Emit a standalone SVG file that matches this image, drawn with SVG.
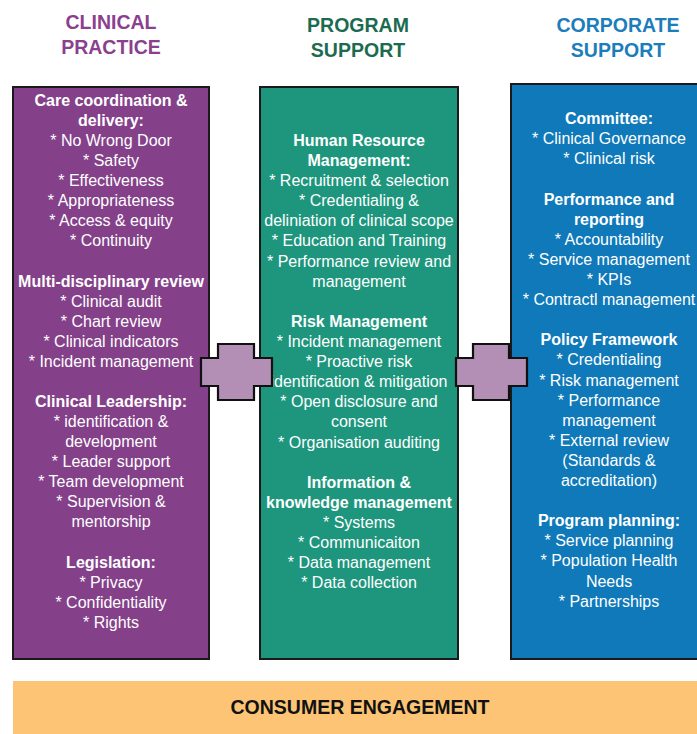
<svg xmlns="http://www.w3.org/2000/svg" width="697" height="734" viewBox="0 0 697 734">
<style>
.t{font-family:"Liberation Sans",Arial,sans-serif;font-size:16px;fill:#ffffff;text-anchor:middle}
.b{font-weight:bold}
.h{font-family:"Liberation Sans",Arial,sans-serif;font-size:19.5px;font-weight:bold;text-anchor:middle}
.box{stroke:#1a1a1a;stroke-width:2}
.cross{fill:#b38fb5;stroke:#111;stroke-width:2.2;stroke-linejoin:miter}
</style>
<rect width="697" height="734" fill="#ffffff"/>
<g id="headers">
<text class="h" x="111" y="29" fill="#8a3f8f">CLINICAL</text>
<text class="h" x="111" y="54" fill="#8a3f8f">PRACTICE</text>
<text class="h" x="358" y="32" fill="#1b6b4f">PROGRAM</text>
<text class="h" x="358" y="57" fill="#1b6b4f">SUPPORT</text>
<text class="h" x="618" y="32" fill="#1b7dba">CORPORATE</text>
<text class="h" x="618" y="57" fill="#1b7dba">SUPPORT</text>
</g>
<g id="clinical">
<rect class="box" x="13" y="87" width="196" height="572" fill="#84418a"/>
<text class="t b" x="111" y="106">Care coordination &amp;</text>
<text class="t b" x="111" y="126">delivery:</text>
<text class="t" x="111" y="146">* No Wrong Door</text>
<text class="t" x="111" y="166">* Safety</text>
<text class="t" x="111" y="186">* Effectiveness</text>
<text class="t" x="111" y="206">* Appropriateness</text>
<text class="t" x="111" y="226">* Access &amp; equity</text>
<text class="t" x="111" y="246">* Continuity</text>
<text class="t b" x="111" y="286.5">Multi-disciplinary review</text>
<text class="t" x="111" y="306.5">* Clinical audit</text>
<text class="t" x="111" y="326.5">* Chart review</text>
<text class="t" x="111" y="346.5">* Clinical indicators</text>
<text class="t" x="111" y="366.5">* Incident management</text>
<text class="t b" x="111" y="407">Clinical Leadership:</text>
<text class="t" x="111" y="427">* identification &amp;</text>
<text class="t" x="111" y="447">development</text>
<text class="t" x="111" y="467">* Leader support</text>
<text class="t" x="111" y="487">* Team development</text>
<text class="t" x="111" y="507">* Supervision &amp;</text>
<text class="t" x="111" y="527">mentorship</text>
<text class="t b" x="111" y="567.5">Legislation:</text>
<text class="t" x="111" y="587.5">* Privacy</text>
<text class="t" x="111" y="607.5">* Confidentiality</text>
<text class="t" x="111" y="627.5">* Rights</text>
</g>
<g id="program">
<rect class="box" x="260" y="87" width="198" height="572" fill="#1d967d"/>
<text class="t b" x="359" y="146">Human Resource</text>
<text class="t b" x="359" y="166">Management:</text>
<text class="t" x="359" y="186">* Recruitment &amp; selection</text>
<text class="t" x="359" y="206">* Credentialing &amp;</text>
<text class="t" x="359" y="226">deliniation of clinical scope</text>
<text class="t" x="359" y="246">* Education and Training</text>
<text class="t" x="359" y="266.5">* Performance review and</text>
<text class="t" x="359" y="286.5">management</text>
<text class="t b" x="359" y="327">Risk Management</text>
<text class="t" x="359" y="347">* Incident management</text>
<text class="t" x="359" y="367">* Proactive risk</text>
<text class="t" x="359" y="387">identification &amp; mitigation</text>
<text class="t" x="359" y="407">* Open disclosure and</text>
<text class="t" x="359" y="427">consent</text>
<text class="t" x="359" y="447.5">* Organisation auditing</text>
<text class="t b" x="359" y="487.5">Information &amp;</text>
<text class="t b" x="359" y="507.5">knowledge management</text>
<text class="t" x="359" y="527.5">* Systems</text>
<text class="t" x="359" y="547.5">* Communicaiton</text>
<text class="t" x="359" y="568">* Data management</text>
<text class="t" x="359" y="588">* Data collection</text>
</g>
<g id="corporate">
<rect class="box" x="511" y="84" width="190" height="575" fill="#0f79b9"/>
<text class="t b" x="609" y="124">Committee:</text>
<text class="t" x="609" y="144">* Clinical Governance</text>
<text class="t" x="609" y="164">* Clinical risk</text>
<text class="t b" x="609" y="204.5">Performance and</text>
<text class="t b" x="609" y="224.5">reporting</text>
<text class="t" x="609" y="244.5">* Accountability</text>
<text class="t" x="609" y="264.5">* Service management</text>
<text class="t" x="609" y="284.5">* KPIs</text>
<text class="t" x="609" y="305">* Contractl management</text>
<text class="t b" x="609" y="345">Policy Framework</text>
<text class="t" x="609" y="365">* Credentialing</text>
<text class="t" x="609" y="385.5">* Risk management</text>
<text class="t" x="609" y="405.5">* Performance</text>
<text class="t" x="609" y="425.5">management</text>
<text class="t" x="609" y="445.5">* External review</text>
<text class="t" x="609" y="465.5">(Standards &amp;</text>
<text class="t" x="609" y="485.5">accreditation)</text>
<text class="t b" x="609" y="526">Program planning:</text>
<text class="t" x="609" y="546">* Service planning</text>
<text class="t" x="609" y="566">* Population Health</text>
<text class="t" x="609" y="586.5">Needs</text>
<text class="t" x="609" y="606.5">* Partnerships</text>
</g>
<g id="connectors">
<path class="cross" d="M218,344 H254 V358 H272 V386 H254 V400 H218 V386 H201 V358 H218 Z"/>
<path class="cross" d="M473,344 H509 V358 H527 V386 H509 V400 H473 V386 H456 V358 H473 Z"/>
</g>
<g id="consumer">
<rect x="13" y="681" width="690" height="60" fill="#fdc475"/>
<text class="h" x="360" y="714" fill="#111111">CONSUMER ENGAGEMENT</text>
</g>
</svg>
